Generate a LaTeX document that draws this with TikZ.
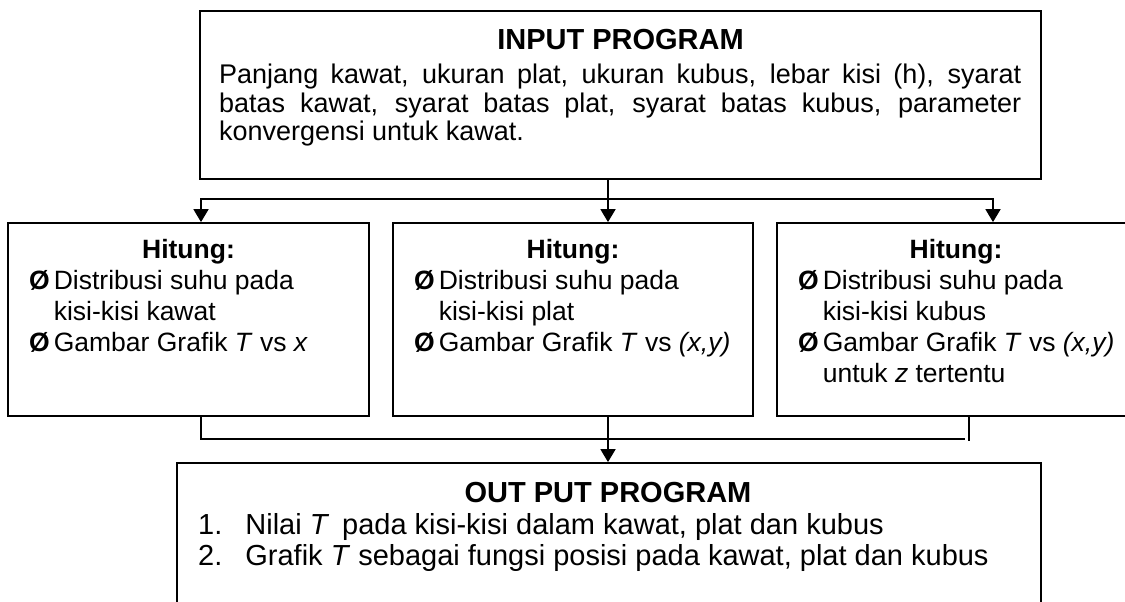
\documentclass[tikz,border=0pt]{standalone}
\usepackage{fontspec}
\setmainfont{Liberation Sans}
\usetikzlibrary{arrows.meta,calc}
\newcommand{\setfs}[2]{\fontsize{#1pt}{#2pt}\selectfont}
\newcommand{\bul}{{\bfseries Ø}}
\begin{document}
\begin{tikzpicture}[x=1pt,y=1pt,
  box/.style={draw, rectangle, inner sep=0pt, line width=1.8pt},
  conn/.style={line width=1.8pt},
  arr/.style={conn, -{Triangle[length=13pt,width=15pt]}},
  txt/.style={inner sep=0pt, anchor=base west},
  ttl/.style={inner sep=0pt, anchor=base}]
\useasboundingbox (0,0) rectangle (1125,-602);

% boxes
\node[box, minimum width=841, minimum height=168] (inp) at (620.5,-95) {};
\node[box, minimum width=361, minimum height=193] (h1) at (188.5,-319.5) {};
\node[box, minimum width=360, minimum height=193] (h2) at (573,-319.5) {};
\node[box, minimum width=358, minimum height=193] (h3) at (956,-319.5) {};
\node[box, minimum width=864, minimum height=177] (out) at (609,-551.5) {};

% input text
\node[ttl, font=\bfseries\setfs{29}{32}] (inpT) at (620.5,-49.5) {INPUT PROGRAM};
\node[txt, font=\setfs{27}{28.5}] (inpB) at (219,-83.5) {\parbox[t]{802pt}{\setfs{27}{28.5}Panjang kawat, ukuran plat, ukuran kubus, lebar kisi (h), syarat\linebreak batas kawat, syarat batas plat, syarat batas kubus, parameter\linebreak konvergensi untuk kawat.}};

% hitung boxes text
\node[ttl, font=\bfseries\setfs{26.5}{31}] (t1) at (188.5,-258) {Hitung:};
\node[ttl, font=\bfseries\setfs{26.5}{31}] (t2) at (573,-258) {Hitung:};
\node[ttl, font=\bfseries\setfs{26.5}{31}] (t3) at (956,-258) {Hitung:};

\node[txt, font=\setfs{26.5}{31}] (l1) at (29,-289.5) {\begin{tabular}[t]{@{}l@{\hspace{4pt}}l@{}}\bul & Distribusi suhu pada\\ & kisi-kisi kawat\\ \bul & Gambar Grafik \textit{T} vs \textit{x}\end{tabular}};
\node[txt, font=\setfs{26.5}{31}] (l2) at (414,-289.5) {\begin{tabular}[t]{@{}l@{\hspace{4pt}}l@{}}\bul & Distribusi suhu pada\\ & kisi-kisi plat\\ \bul & Gambar Grafik \textit{T} vs \textit{(x,y)}\end{tabular}};
\node[txt, font=\setfs{26.5}{31}] (l3) at (798,-289.5) {\begin{tabular}[t]{@{}l@{\hspace{4pt}}l@{}}\bul & Distribusi suhu pada\\ & kisi-kisi kubus\\ \bul & Gambar Grafik \textit{T} vs \textit{(x,y)}\\ & untuk \textit{z} tertentu\end{tabular}};

% output text
\node[ttl, font=\bfseries\setfs{29}{32}] (outT) at (608,-502.4) {OUT PUT PROGRAM};
\node[txt, font=\setfs{29}{31}] (outB) at (198,-534) {\begin{tabular}[t]{@{}l@{\hspace{23pt}}l@{}}1. & Nilai \textit{T}\, pada kisi-kisi dalam kawat, plat dan kubus\\ 2. & Grafik \textit{T} sebagai fungsi posisi pada kawat, plat dan kubus\end{tabular}};

% connectors
\coordinate (jt) at (608,-199);
\coordinate (jl) at (201,-199);
\coordinate (jr) at (993,-199);
\draw[arr] (jt) -- (jl) -- (jl |- h1.north);
\draw[arr] (jt) -- (jr) -- (jr |- h3.north);
\draw[arr] (inp.south -| jt) -- (jt |- h2.north);

\coordinate (bl) at (201,-439);
\coordinate (br) at (965,-439);
\coordinate (brv) at (969,-441);
\draw[conn] (h1.south -| bl) -- (bl) -- (br);
\draw[conn] (h3.south -| brv) -- (brv);
\draw[arr] (h2.south -| jt) -- (out.north -| jt);
\end{tikzpicture}
\end{document}
